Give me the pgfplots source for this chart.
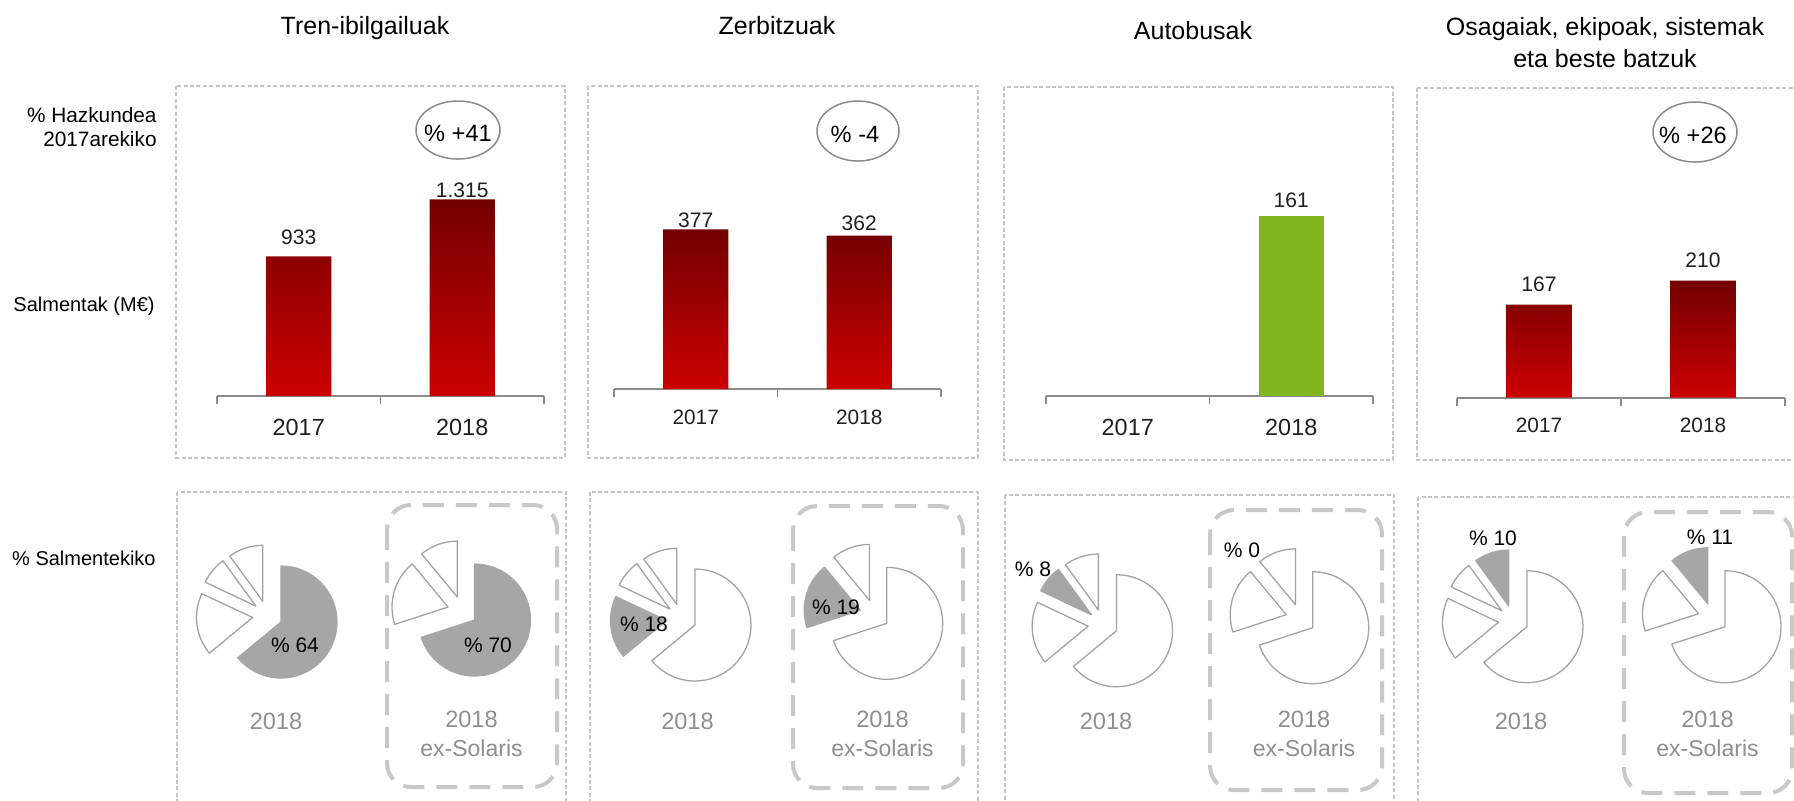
\documentclass[border=0pt]{standalone}
\usepackage{pgfplots}
\pgfplotsset{compat=1.18}
\usepackage{fontspec}
\setmainfont{Liberation Sans}

\definecolor{boxgray}{HTML}{C4C4C4}
\definecolor{solgray}{HTML}{C8C8C8}
\definecolor{axisgray}{HTML}{8C8C8C}
\definecolor{pieLine}{HTML}{A3A3A3}
\definecolor{pieHL}{HTML}{A6A6A6}
\definecolor{yeargray}{HTML}{8E8E8E}
\definecolor{ellgray}{HTML}{8A8A8A}
\definecolor{valtext}{HTML}{1F1F1F}
\definecolor{barTop}{HTML}{730000}
\definecolor{barBot}{HTML}{CC0000}
\definecolor{busgreen}{HTML}{80B71E}

\newcommand\fsz[1]{\fontsize{#1pt}{#1pt}\selectfont}

% one exploded slice: cx, cy, start, end, pct, index, highlighted index
\newcommand\pieslice[7]{%
  \ifdim #5pt>0pt
    \pgfmathsetmacro\pmid{(#3+#4)/2}%
    \ifnum#6=#7\relax\def\pfill{pieHL}\def\pdraw{pieHL}\else\def\pfill{white}\def\pdraw{pieLine}\fi
    \edef\pdo{\noexpand\filldraw[fill=\pfill,draw=\pdraw,line width=0.65pt,line join=round]
      (axis cs:#1,#2) ++(\pmid:7.5pt) -- ++(#3:28pt)
      arc[start angle=#3,end angle=#4,radius=28pt] -- cycle;}%
    \pdo
  \fi}
% pie: cx, cy, tren, zerbitzuak, autobusak, osagaiak, highlighted slice
\newcommand\drawpie[7]{%
  \pgfmathsetmacro\pa{90}%
  \pgfmathsetmacro\pb{90-3.6*#3}%
  \pgfmathsetmacro\pc{\pb-3.6*#4}%
  \pgfmathsetmacro\pd{\pc-3.6*#5}%
  \pgfmathsetmacro\pe{\pd-3.6*#6}%
  \pieslice{#1}{#2}{\pa}{\pb}{#3}{1}{#7}%
  \pieslice{#1}{#2}{\pb}{\pc}{#4}{2}{#7}%
  \pieslice{#1}{#2}{\pc}{\pd}{#5}{3}{#7}%
  \pieslice{#1}{#2}{\pd}{\pe}{#6}{4}{#7}%
}

\pgfplotsset{
  barpanel/.style={
    scale only axis, width=163.5pt, height=125pt,
    anchor=south west, xmin=-0.5, xmax=1.5, ymin=0,
    ybar, bar width=0.4,
    axis y line=none, axis x line*=bottom,
    axis line style={draw=axisgray, line width=0.9pt},
    xtick={0,1}, xticklabels={2017,2018},
    major tick length=0pt,
    extra x ticks={-0.5,0.5,1.5}, extra x tick labels={},
    extra x tick style={major tick length=4pt, tick align=outside,
      major tick style={draw=axisgray, line width=0.9pt}},
    xticklabel style={anchor=north, inner sep=0pt, text=valtext},
    nodes near coords, point meta=explicit symbolic,
    visualization depends on={value \thisrow{gap} \as \gap},
    every node near coord/.append style={font=\fsz{10.5}, text=valtext,
      inner sep=0pt, anchor=south, yshift=\gap pt},
    clip=false,
  },
}
\tikzset{
  panelbox/.style={draw=boxgray, line width=0.75pt, dash pattern=on 2pt off 1.2pt},
  solbox/.style={draw=solgray, line width=2pt, dash pattern=on 10.5pt off 6pt, rounded corners=12pt},
}

\begin{document}
\begin{tikzpicture}
\useasboundingbox (0,0) rectangle (897pt,-400pt);

% canvas in pixel units of the reference
\begin{axis}[at={(0,0)}, anchor=north west, scale only axis,
  width=897pt, height=400pt, xmin=0, xmax=1794, ymin=0, ymax=800,
  y dir=reverse, hide axis, clip=false]

% panel frames
\draw[panelbox] (axis cs:176,86) rectangle (axis cs:565,458);
\draw[panelbox] (axis cs:588,86) rectangle (axis cs:978,458);
\draw[panelbox] (axis cs:1004,87) rectangle (axis cs:1393,460);
\draw[panelbox] (axis cs:1417,88) rectangle (axis cs:1812,460);
\draw[panelbox] (axis cs:177,492) rectangle (axis cs:566,830);
\draw[panelbox] (axis cs:590,492) rectangle (axis cs:978,830);
\draw[panelbox] (axis cs:1005,495) rectangle (axis cs:1394,830);
\draw[panelbox] (axis cs:1418,497) rectangle (axis cs:1812,830);
\draw[solbox] (axis cs:387,505) rectangle (axis cs:557,787);
\draw[solbox] (axis cs:793,506) rectangle (axis cs:963,788);
\draw[solbox] (axis cs:1210,510) rectangle (axis cs:1382,790);
\draw[solbox] (axis cs:1624,512) rectangle (axis cs:1792,793);

% titles
\node[anchor=base, inner sep=0pt, font=\fsz{12.5}] at (axis cs:365,34.3) {Tren-ibilgailuak};
\node[anchor=base, inner sep=0pt, font=\fsz{12.5}] at (axis cs:777,34.3) {Zerbitzuak};
\node[anchor=base, inner sep=0pt, font=\fsz{12.5}] at (axis cs:1193,39.3) {Autobusak};
\node[anchor=base, inner sep=0pt, font=\fsz{12.5}] at (axis cs:1605,35) {Osagaiak, ekipoak, sistemak};
\node[anchor=base, inner sep=0pt, font=\fsz{12.5}] at (axis cs:1605,67.7) {eta beste batzuk};

% row labels
\node[anchor=base east, inner sep=0pt, font=\fsz{10.4}] at (axis cs:157,122) {\% Hazkundea};
\node[anchor=base east, inner sep=0pt, font=\fsz{10.4}] at (axis cs:157,146.7) {2017arekiko};
\node[anchor=base east, inner sep=0pt, font=\fsz{10}] at (axis cs:155,311.7) {Salmentak (M€)};
\node[anchor=base east, inner sep=0pt, font=\fsz{10}] at (axis cs:156,565) {\% Salmentekiko};

% growth ellipses
\draw[ellgray, line width=0.75pt] (axis cs:458,130) ellipse [x radius=21pt, y radius=14.5pt];
\node[inner sep=0pt, font=\fsz{11.8}] at (axis cs:458,133) {\% +41};
\draw[ellgray, line width=0.75pt] (axis cs:858,131) ellipse [x radius=20.5pt, y radius=15pt];
\node[inner sep=0pt, font=\fsz{11.8}] at (axis cs:855,134) {\% -4};
\draw[ellgray, line width=0.75pt] (axis cs:1695,132) ellipse [x radius=21pt, y radius=15pt];
\node[inner sep=0pt, font=\fsz{11.8}] at (axis cs:1693,135) {\% +26};

% share of sales: Tren, Zerbitzuak, Autobusak, Osagaiak
\drawpie{267.4}{615.6}{64}{18}{8}{10}{1}
\drawpie{462.4}{611.2}{70}{19}{0}{11}{1}
\drawpie{681.4}{618.6}{64}{18}{8}{10}{2}
\drawpie{874.6}{614.5}{70}{19}{0}{11}{2}
\drawpie{1103}{624.3}{64}{18}{8}{10}{3}
\drawpie{1300.6}{618.9}{70}{19}{0}{11}{3}
\drawpie{1513.4}{620.3}{64}{18}{8}{10}{4}
\drawpie{1712.9}{617.9}{70}{19}{0}{11}{4}

\node[inner sep=0pt, font=\fsz{10.5}] at (axis cs:295,645) {\% 64};
\node[inner sep=0pt, font=\fsz{10.5}] at (axis cs:488,645) {\% 70};
\node[inner sep=0pt, font=\fsz{10.5}] at (axis cs:644,624) {\% 18};
\node[inner sep=0pt, font=\fsz{10.5}] at (axis cs:836,607) {\% 19};
\node[inner sep=0pt, font=\fsz{10.5}] at (axis cs:1033,569) {\% 8};
\node[inner sep=0pt, font=\fsz{10.5}] at (axis cs:1242,550) {\% 0};
\node[inner sep=0pt, font=\fsz{10.5}] at (axis cs:1493,538) {\% 10};
\node[inner sep=0pt, font=\fsz{10.5}] at (axis cs:1710,537) {\% 11};

% pie captions
\foreach \cx/\ex in {276/471.5, 687.5/882.5, 1106/1304, 1521/1707.5}{
  \edef\tmp{\noexpand\node[anchor=base, inner sep=0pt, font=\noexpand\fsz{11.8}, text=yeargray] at (axis cs:\cx,729) {2018};
    \noexpand\node[anchor=base, inner sep=0pt, font=\noexpand\fsz{11.8}, text=yeargray] at (axis cs:\ex,727) {2018};
    \noexpand\node[anchor=base, inner sep=0pt, font=\noexpand\fsz{11.5}, text=yeargray] at (axis cs:\ex,756) {ex-Solaris};}
  \tmp
}
\end{axis}

% sales (M EUR)
\begin{axis}[barpanel, at={(108.5pt,-198pt)}, ymax=1671,
  xticklabel style={font=\fsz{11.7}, yshift=-11.3pt}]
\addplot[draw=none, top color=barTop, bottom color=barBot] table[x=x, y=y, meta=lab] {
x y lab gap
0 933 933 5.5
1 1315 1.315 0.8
};
\end{axis}

\begin{axis}[barpanel, at={(307pt,-194.5pt)}, ymax=590,
  xticklabel style={font=\fsz{10.4}, yshift=-10.3pt}]
\addplot[draw=none, top color=barTop, bottom color=barBot] table[x=x, y=y, meta=lab] {
x y lab gap
0 377 377 0.6
1 362 362 2.5
};
\end{axis}

\begin{axis}[barpanel, at={(523pt,-198pt)}, ymax=224,
  xticklabel style={font=\fsz{11.7}, yshift=-11.3pt}]
\addplot[draw=none, fill=busgreen] table[x=x, y=y, meta=lab] {
x y lab gap
1 161 161 4
};
\end{axis}

\begin{axis}[barpanel, at={(728.5pt,-198.85pt)}, width=164pt, ymax=448,
  xticklabel style={font=\fsz{10.4}, yshift=-10pt}]
\addplot[draw=none, top color=barTop, bottom color=barBot] table[x=x, y=y, meta=lab] {
x y lab gap
0 167 167 6
1 210 210 6
};
\end{axis}
\end{tikzpicture}
\end{document}
